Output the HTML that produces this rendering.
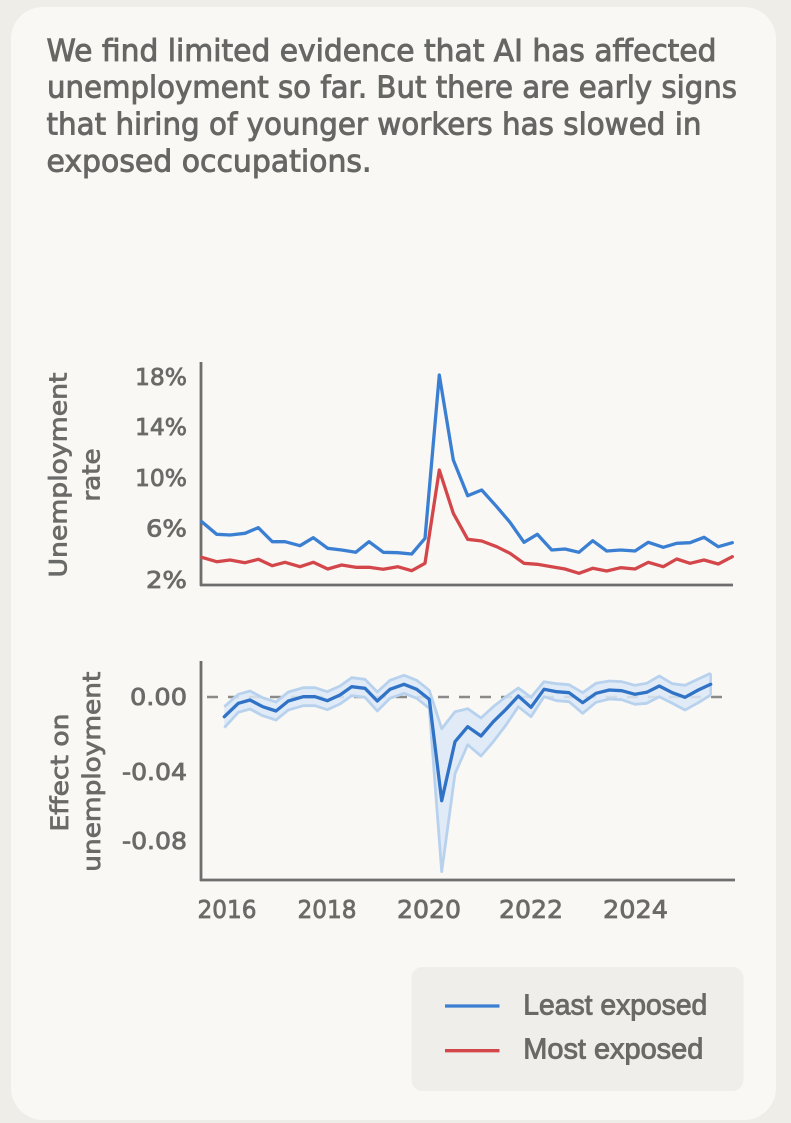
<!DOCTYPE html>
<html>
<head>
<meta charset="utf-8">
<style>
  html,body{margin:0;padding:0;background:#eeede8;}
  body{width:791px;height:1123px;overflow:hidden;}
  svg{display:block;}
  .t{font-family:"DejaVu Sans","Liberation Sans",sans-serif;fill:#666664;stroke:#666664;stroke-width:0.9px;}
  .k{font-family:"DejaVu Sans","Liberation Sans",sans-serif;fill:#6a6a68;stroke:#6a6a68;stroke-width:0.8px;}
  .l{font-family:"Liberation Sans","DejaVu Sans",sans-serif;fill:#6b6964;stroke:#6b6964;stroke-width:0.9px;}
</style>
</head>
<body>
<svg width="791" height="1123" viewBox="0 0 791 1123" xmlns="http://www.w3.org/2000/svg">
  <rect x="0" y="0" width="791" height="1123" fill="#eeede8"/>
  <rect x="11" y="7" width="765" height="1113" rx="32" ry="32" fill="#f9f8f5"/>

  <!-- Title -->
  <text class="t" x="46.5" y="61" font-size="30" textLength="670" lengthAdjust="spacingAndGlyphs">We find limited evidence that AI has affected</text>
  <text class="t" x="47" y="97.5" font-size="30" textLength="690" lengthAdjust="spacingAndGlyphs">unemployment so far. But there are early signs</text>
  <text class="t" x="46.5" y="134.5" font-size="30" textLength="655" lengthAdjust="spacingAndGlyphs">that hiring of younger workers has slowed in</text>
  <text class="t" x="46.5" y="171.5" font-size="30" textLength="325" lengthAdjust="spacingAndGlyphs">exposed occupations.</text>

  <!-- Top chart y title -->
  <text class="k" font-size="24" text-anchor="middle" transform="translate(66.5,475) rotate(-90)" textLength="205" lengthAdjust="spacingAndGlyphs">Unemployment</text>
  <text class="k" font-size="24" text-anchor="middle" transform="translate(99.5,475) rotate(-90)" textLength="53" lengthAdjust="spacingAndGlyphs">rate</text>

  <!-- Top chart ticks -->
  <g class="k" font-size="23" text-anchor="end">
    <text x="187" y="385" textLength="52" lengthAdjust="spacingAndGlyphs">18%</text>
    <text x="187" y="435" textLength="52" lengthAdjust="spacingAndGlyphs">14%</text>
    <text x="187" y="486" textLength="52" lengthAdjust="spacingAndGlyphs">10%</text>
    <text x="187" y="536.5" textLength="41" lengthAdjust="spacingAndGlyphs">6%</text>
    <text x="187" y="588" textLength="41" lengthAdjust="spacingAndGlyphs">2%</text>
  </g>

  <!-- Top chart axes -->
  <line x1="201" y1="362" x2="201" y2="586" stroke="#6e6e6e" stroke-width="2.8"/>
  <line x1="200" y1="585" x2="733" y2="585" stroke="#6e6e6e" stroke-width="2.8"/>

  <!-- Red line -->
  <polyline fill="none" stroke="#d3474a" stroke-width="3.3" stroke-linejoin="round" stroke-linecap="round"
    points="201.7,557.3 216.7,561.7 230,560 245,562.7 258.3,559.3 272.3,565.7 285,562.3 300,566.7 313.3,562.3 327.7,569 341.7,565 355.7,567.3 369,567.3 383.3,569.3 397.7,566.7 411.7,570.7 425,563.3 439.3,470 453.3,513.3 467.7,539.3 481.7,541 496.7,546.7 510,553.3 524,563.3 537.3,564.3 551.7,566.7 565,569 579,573.3 592.7,568.3 606.7,571 620.7,567.7 635,569 648.3,562.3 663.3,566.7 676.7,559 690,563.3 704,560 718.3,564 732.3,556.7"/>
  <!-- Blue line -->
  <polyline fill="none" stroke="#3b7fd3" stroke-width="3.3" stroke-linejoin="round" stroke-linecap="round"
    points="201.7,521.7 216.7,534.3 230,535 245,533.3 258.3,527.7 272.3,541.7 285,541.7 300,545.7 313.3,537.7 327.7,548.3 341.7,550 355.7,552.3 369,541.7 383.3,552.3 397.7,552.7 411.7,554 425,538.3 439.3,375 453.3,460 467.7,495.7 481.7,490 496.7,506.7 510,522.3 524,542.3 537.3,534.3 551.7,550 565,549 579,552.3 592.7,540.7 606.7,551 620.7,550 635,551 648.3,542.3 663.3,547.3 676.7,543.3 690,542.7 704,537.3 718.3,546.7 732.3,542.7"/>

  <!-- Bottom chart y title -->
  <text class="k" font-size="24" text-anchor="middle" transform="translate(68,772.5) rotate(-90)" textLength="118" lengthAdjust="spacingAndGlyphs">Effect on</text>
  <text class="k" font-size="24" text-anchor="middle" transform="translate(100,771.7) rotate(-90)" textLength="200" lengthAdjust="spacingAndGlyphs">unemployment</text>

  <!-- Bottom chart ticks -->
  <g class="k" font-size="23" text-anchor="end">
    <text x="187" y="705" textLength="57" lengthAdjust="spacingAndGlyphs">0.00</text>
    <text x="187" y="780" textLength="65" lengthAdjust="spacingAndGlyphs">-0.04</text>
    <text x="187" y="849" textLength="65" lengthAdjust="spacingAndGlyphs">-0.08</text>
  </g>

  <!-- X labels -->
  <g class="k" font-size="25" text-anchor="middle">
    <text x="227" y="918" textLength="59" lengthAdjust="spacingAndGlyphs">2016</text>
    <text x="327" y="918" textLength="59" lengthAdjust="spacingAndGlyphs">2018</text>
    <text x="429" y="918" textLength="64" lengthAdjust="spacingAndGlyphs">2020</text>
    <text x="531" y="918" textLength="64" lengthAdjust="spacingAndGlyphs">2022</text>
    <text x="635.5" y="918" textLength="65" lengthAdjust="spacingAndGlyphs">2024</text>
  </g>

  <!-- Dashed zero line -->
  <line x1="207" y1="697" x2="731" y2="697" stroke="#8a8a88" stroke-width="2.5" stroke-dasharray="11,10"/>

  <!-- Confidence band -->
  <polygon fill="#dce9f7" fill-opacity="0.85" stroke="none"
    points="224.3,706.7 238.3,694.3 250,691 262.7,697.7 276,702 288.3,692 303.3,687.7 315,687.7 327.3,691.7 340,686 351.7,677.7 365,679.3 377.3,692 390,680.3 404,675.3 416.7,680.3 429.3,690.3 441.7,728.7 455,711.7 467.7,708.7 481,718 493.3,706.7 506,696.7 518.3,688 531,697.3 544,681.7 556.7,683.7 569,684.7 582.7,692.7 596,683.3 609.3,681 621.7,681.7 635,685.3 646.7,683.3 659.3,676 672.3,683.7 685,685.3 698.3,679 710.7,673.3 710.7,695 698.3,702.7 685,710 672.3,703.3 659.3,696.7 646.7,703.3 635,704.3 621.7,699.7 609.3,699 596,702.3 582.7,713.3 569,701.7 556.7,700.7 544,696.7 531,716.7 518.3,706.7 506,725 493.3,741.7 481,756 467.7,744.7 455,773.7 441.7,871.7 429.3,708.3 416.7,698.3 404,693.3 390,698.3 377.3,711 365,697.3 351.7,695.7 340,704 327.3,709.7 315,705.7 303.3,705.7 288.3,710 276,720 262.7,715.7 250,709 238.3,712.3 224.3,727.7"/>
  <polyline fill="none" stroke="#b8d2ee" stroke-width="2.8" stroke-linejoin="round"
    points="224.3,706.7 238.3,694.3 250,691 262.7,697.7 276,702 288.3,692 303.3,687.7 315,687.7 327.3,691.7 340,686 351.7,677.7 365,679.3 377.3,692 390,680.3 404,675.3 416.7,680.3 429.3,690.3 441.7,728.7 455,711.7 467.7,708.7 481,718 493.3,706.7 506,696.7 518.3,688 531,697.3 544,681.7 556.7,683.7 569,684.7 582.7,692.7 596,683.3 609.3,681 621.7,681.7 635,685.3 646.7,683.3 659.3,676 672.3,683.7 685,685.3 698.3,679 710.7,673.3"/>
  <polyline fill="none" stroke="#b8d2ee" stroke-width="2.8" stroke-linejoin="round"
    points="224.3,727.7 238.3,712.3 250,709 262.7,715.7 276,720 288.3,710 303.3,705.7 315,705.7 327.3,709.7 340,704 351.7,695.7 365,697.3 377.3,711 390,698.3 404,693.3 416.7,698.3 429.3,708.3 441.7,871.7 455,773.7 467.7,744.7 481,756 493.3,741.7 506,725 518.3,706.7 531,716.7 544,696.7 556.7,700.7 569,701.7 582.7,713.3 596,702.3 609.3,699 621.7,699.7 635,704.3 646.7,703.3 659.3,696.7 672.3,703.3 685,710 698.3,702.7 710.7,695"/>
  <line x1="710.7" y1="673.3" x2="710.7" y2="695" stroke="#b8d2ee" stroke-width="2.5"/>

  <!-- Effect line -->
  <polyline fill="none" stroke="#2f72c6" stroke-width="3.3" stroke-linejoin="round" stroke-linecap="round"
    points="224.3,716.7 238.3,703.3 250,700 262.7,706.7 276,711 288.3,701 303.3,696.7 315,696.7 327.3,700.7 340,695 351.7,686.7 365,688.3 377.3,701 390,689.3 404,684.3 416.7,689.3 429.3,699.3 441.7,800.7 455,741.7 467.7,726.7 481,736 493.3,721.7 506,709.3 518.3,696 531,707.3 544,689.3 556.7,691.7 569,692.7 582.7,702.7 596,693.3 609.3,690 621.7,690.7 635,694.3 646.7,692.3 659.3,686 672.3,692.7 685,697.3 698.3,690 710.7,684.3"/>

  <!-- Bottom chart axes -->
  <line x1="201" y1="661" x2="201" y2="881" stroke="#6e6e6e" stroke-width="2.8"/>
  <line x1="200" y1="880" x2="735" y2="880" stroke="#6e6e6e" stroke-width="2.8"/>

  <!-- Legend -->
  <rect x="411.5" y="967" width="332" height="124" rx="11" ry="11" fill="#f0eeea"/>
  <line x1="445" y1="1006" x2="499.5" y2="1006" stroke="#3b7fd3" stroke-width="3.3"/>
  <line x1="445" y1="1050.7" x2="499.5" y2="1050.7" stroke="#d3474a" stroke-width="3.3"/>
  <text class="l" x="523.3" y="1014.3" font-size="29" textLength="184" lengthAdjust="spacingAndGlyphs">Least exposed</text>
  <text class="l" x="523.3" y="1058.5" font-size="29" textLength="180" lengthAdjust="spacingAndGlyphs">Most exposed</text>
</svg>
</body>
</html>
